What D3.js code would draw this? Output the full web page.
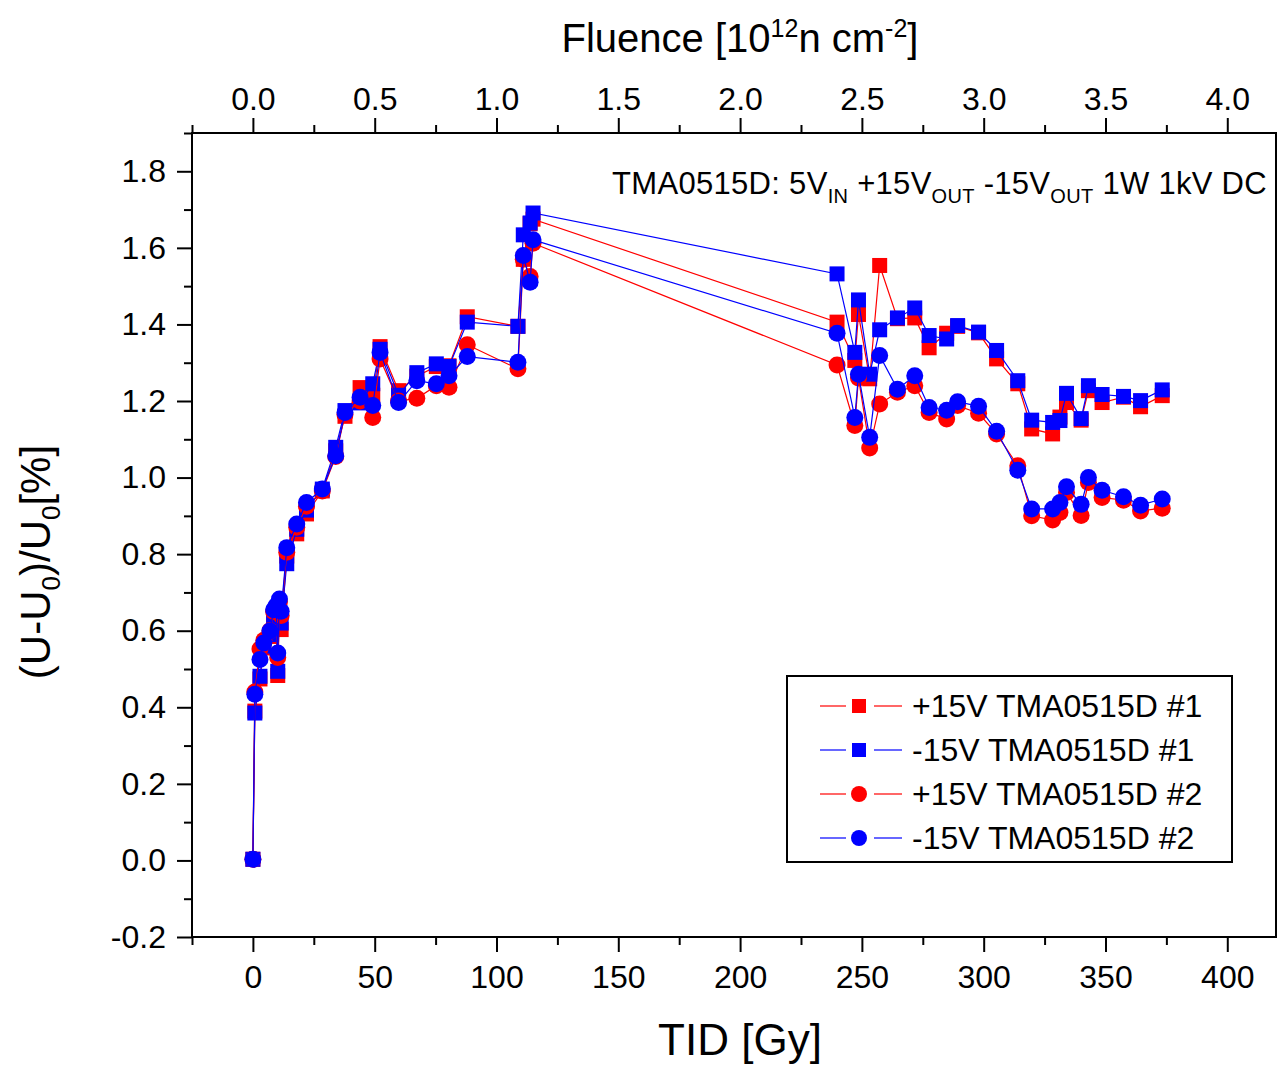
<!DOCTYPE html>
<html>
<head>
<meta charset="utf-8">
<script src="https://cdn.jsdelivr.net/npm/d3@7"></script>
<style>
  body { margin: 0; background: #fff; }
  text { font-family: "Liberation Sans", Arial, sans-serif; }
</style>
</head>
<body>
<svg width="1277" height="1065"></svg>
<script>
// TID values [Gy], shared by all series
var tid = [0, 0.8, 2.9, 4.5, 7.0, 8.5, 9.5, 10.2, 10.9, 11.6,
  13.9, 18.0, 22.0, 28.5, 34.0, 37.8, 44.0, 49.2, 52.2, 59.8,
  67.3, 75.3, 80.5, 88.0, 108.8, 111.0, 113.8, 115.0,
  239.8, 247.1, 248.6, 253.2, 257.3, 264.6, 271.7, 277.6, 284.8, 289.3,
  297.9, 305.3, 314.0, 319.7, 328.3, 331.3, 334.0, 340.0, 343.0, 348.6,
  357.4, 364.4, 373.3];

var posOut1 = [0.003, 0.39, 0.474, 0.555, 0.585, 0.625, 0.645, 0.483, 0.655, 0.603,
  0.795, 0.853, 0.905, 0.965, 1.07, 1.16, 1.235, 1.215, 1.342, 1.227,
  1.265, 1.29, 1.292, 1.42, 1.395, 1.57, 1.663, 1.675,
  1.406, 1.306, 1.426, 1.258, 1.554, 1.415, 1.417, 1.339, 1.377, 1.395,
  1.378, 1.310, 1.245, 1.127, 1.114, 1.158, 1.196, 1.15, 1.227, 1.196,
  1.21, 1.185, 1.214];

var negOut1 = [0.003, 0.385, 0.481, 0.56, 0.59, 0.64, 0.655, 0.494, 0.665, 0.62,
  0.775, 0.865, 0.915, 0.970, 1.079, 1.175, 1.195, 1.245, 1.335, 1.215,
  1.274, 1.297, 1.29, 1.406, 1.395, 1.634, 1.665, 1.691,
  1.532, 1.327, 1.464, 1.270, 1.386, 1.417, 1.443, 1.371, 1.362, 1.397,
  1.380, 1.332, 1.253, 1.150, 1.144, 1.149, 1.220, 1.154, 1.240, 1.217,
  1.212, 1.201, 1.229];

var posOut2 = [0.003, 0.44, 0.552, 0.575, 0.60, 0.65, 0.66, 0.53, 0.675, 0.64,
  0.805, 0.87, 0.925, 0.965, 1.055, 1.165, 1.20, 1.157, 1.310, 1.20,
  1.207, 1.24, 1.236, 1.347, 1.284, 1.57, 1.525, 1.612,
  1.294, 1.136, 1.26, 1.077, 1.192, 1.223, 1.240, 1.170, 1.153, 1.188,
  1.168, 1.114, 1.031, 0.900, 0.889, 0.909, 0.961, 0.901, 0.987, 0.948,
  0.941, 0.913, 0.920];

var negOut2 = [0.003, 0.434, 0.525, 0.568, 0.599, 0.655, 0.665, 0.542, 0.683, 0.651,
  0.817, 0.879, 0.935, 0.970, 1.057, 1.170, 1.210, 1.188, 1.327, 1.196,
  1.253, 1.245, 1.266, 1.316, 1.301, 1.580, 1.510, 1.621,
  1.377, 1.157, 1.270, 1.105, 1.319, 1.231, 1.266, 1.183, 1.176, 1.198,
  1.186, 1.121, 1.019, 0.918, 0.918, 0.935, 0.976, 0.930, 1.000, 0.967,
  0.950, 0.928, 0.944];

var seriesNames = ["+15V TMA0515D #1", "-15V TMA0515D #1", "+15V TMA0515D #2", "-15V TMA0515D #2"];
var seriesValues = [posOut1, negOut1, posOut2, negOut2];
var seriesColors = ["#ff0000", "#0000ff", "#ff0000", "#0000ff"];
var seriesShapes = ["square", "square", "circle", "circle"];

var yTicks = [-0.2, 0.0, 0.2, 0.4, 0.6, 0.8, 1.0, 1.2, 1.4, 1.6, 1.8];
var xTicks = [0, 50, 100, 150, 200, 250, 300, 350, 400];
var fluenceTicks = [0.0, 0.5, 1.0, 1.5, 2.0, 2.5, 3.0, 3.5, 4.0];

var plot = {left: 192, right: 1276, top: 133, bottom: 937};

var svg = d3.select("svg");

var x = d3.scaleLinear().domain([-25, 420]).range([plot.left, plot.right]);
var xTop = d3.scaleLinear().domain([-0.25, 4.2]).range([plot.left, plot.right]);
var y = d3.scaleLinear().domain([-0.2, 1.9]).range([plot.bottom, plot.top]);

// plain hyphen for negatives, like the original
var fmt1 = function(d) { return d.toFixed(1); };

function minor(axis, vals) {
  return axis.tickValues(vals).tickSize(8).tickFormat("");
}

var gAxes = svg.append("g");

gAxes.append("g")
   .attr("transform", "translate(" + plot.left + ",0)")
   .call(minor(d3.axisLeft(y), d3.range(-0.1, 1.95, 0.2)));
gAxes.append("g")
   .attr("transform", "translate(" + plot.left + ",0)")
   .call(d3.axisLeft(y).tickValues(yTicks).tickSize(15).tickPadding(11).tickFormat(fmt1));

gAxes.append("g")
   .attr("transform", "translate(0," + plot.bottom + ")")
   .call(minor(d3.axisBottom(x), d3.range(-25, 425, 50)));
gAxes.append("g")
   .attr("transform", "translate(0," + plot.bottom + ")")
   .call(d3.axisBottom(x).tickValues(xTicks).tickSize(15).tickPadding(13).tickFormat(d3.format("d")));

gAxes.append("g")
   .attr("transform", "translate(0," + plot.top + ")")
   .call(minor(d3.axisTop(xTop), d3.range(-0.25, 4.2, 0.5)));
gAxes.append("g")
   .attr("transform", "translate(0," + plot.top + ")")
   .call(d3.axisTop(xTop).tickValues(fluenceTicks).tickSize(15).tickPadding(8).tickFormat(fmt1));

gAxes.selectAll(".domain").remove();
gAxes.selectAll(".tick line").attr("stroke", "#000").attr("stroke-width", 2);
gAxes.selectAll(".tick text").attr("fill", "#000").style("font-size", "32px")
   .style("font-family", "'Liberation Sans', Arial, sans-serif");

// frame
svg.append("rect")
   .attr("x", plot.left).attr("y", plot.top)
   .attr("width", plot.right - plot.left).attr("height", plot.bottom - plot.top)
   .attr("fill", "none").attr("stroke", "#000").attr("stroke-width", 2);

// series
var line = d3.line()
   .x(function(d) { return x(d[0]); })
   .y(function(d) { return y(d[1]); });

function drawMarker(g, shape, color, cx, cy, size) {
  if (shape === "square") {
    g.append("rect")
       .attr("x", cx - size / 2).attr("y", cy - size / 2)
       .attr("width", size).attr("height", size)
       .attr("fill", color);
  } else {
    g.append("circle")
       .attr("cx", cx).attr("cy", cy).attr("r", size / 2 + 1)
       .attr("fill", color);
  }
}

seriesValues.forEach(function(vals, i) {
  var pts = tid.map(function(t, j) { return [t, vals[j]]; });
  var g = svg.append("g").attr("class", "series");
  g.append("path")
     .datum(pts)
     .attr("d", line)
     .attr("fill", "none")
     .attr("stroke", seriesColors[i])
     .attr("stroke-width", 1.2);
  pts.forEach(function(p) {
    drawMarker(g, seriesShapes[i], seriesColors[i], x(p[0]), y(p[1]), 15);
  });
});

// legend
var legend = svg.append("g");
legend.append("rect")
   .attr("x", 787).attr("y", 676).attr("width", 445).attr("height", 186)
   .attr("fill", "#fff").attr("stroke", "#000").attr("stroke-width", 2);
seriesNames.forEach(function(name, i) {
  var ly = 706 + i * 44;
  legend.append("line").attr("x1", 820).attr("x2", 846).attr("y1", ly).attr("y2", ly)
     .attr("stroke", seriesColors[i]).attr("stroke-width", 1.2);
  legend.append("line").attr("x1", 874).attr("x2", 902).attr("y1", ly).attr("y2", ly)
     .attr("stroke", seriesColors[i]).attr("stroke-width", 1.2);
  drawMarker(legend, seriesShapes[i], seriesColors[i], 859, ly, 14);
  legend.append("text")
     .attr("x", 912).attr("y", ly + 11)
     .style("font-size", "32px")
     .text(name);
});

// annotation
var ann = svg.append("text")
   .attr("x", 1267).attr("y", 194)
   .attr("text-anchor", "end")
   .style("font-size", "31px")
   .style("letter-spacing", "0.3px");
ann.append("tspan").text("TMA0515D: 5V");
ann.append("tspan").attr("dy", 9).style("font-size", "20px").text("IN");
ann.append("tspan").attr("dy", -9).text(" +15V");
ann.append("tspan").attr("dy", 9).style("font-size", "20px").text("OUT");
ann.append("tspan").attr("dy", -9).text(" -15V");
ann.append("tspan").attr("dy", 9).style("font-size", "20px").text("OUT");
ann.append("tspan").attr("dy", -9).text(" 1W 1kV DC");

// axis titles
svg.append("text")
   .attr("x", 740).attr("y", 1055)
   .attr("text-anchor", "middle")
   .style("font-size", "44px")
   .text("TID [Gy]");

var ft = svg.append("text")
   .attr("x", 740).attr("y", 52)
   .attr("text-anchor", "middle")
   .style("font-size", "40px");
ft.append("tspan").text("Fluence [10");
ft.append("tspan").attr("dy", -15).style("font-size", "25px").text("12");
ft.append("tspan").attr("dy", 15).text("n cm");
ft.append("tspan").attr("dy", -15).style("font-size", "25px").text("-2");
ft.append("tspan").attr("dy", 15).text("]");

var yt = svg.append("text")
   .attr("transform", "translate(50,562) rotate(-90)")
   .attr("text-anchor", "middle")
   .style("font-size", "42px");
yt.append("tspan").text("(U-U");
yt.append("tspan").attr("dy", 10).style("font-size", "26px").text("0");
yt.append("tspan").attr("dy", -10).text(")/U");
yt.append("tspan").attr("dy", 10).style("font-size", "26px").text("0");
yt.append("tspan").attr("dy", -10).text("[%]");
</script>
</body>
</html>
